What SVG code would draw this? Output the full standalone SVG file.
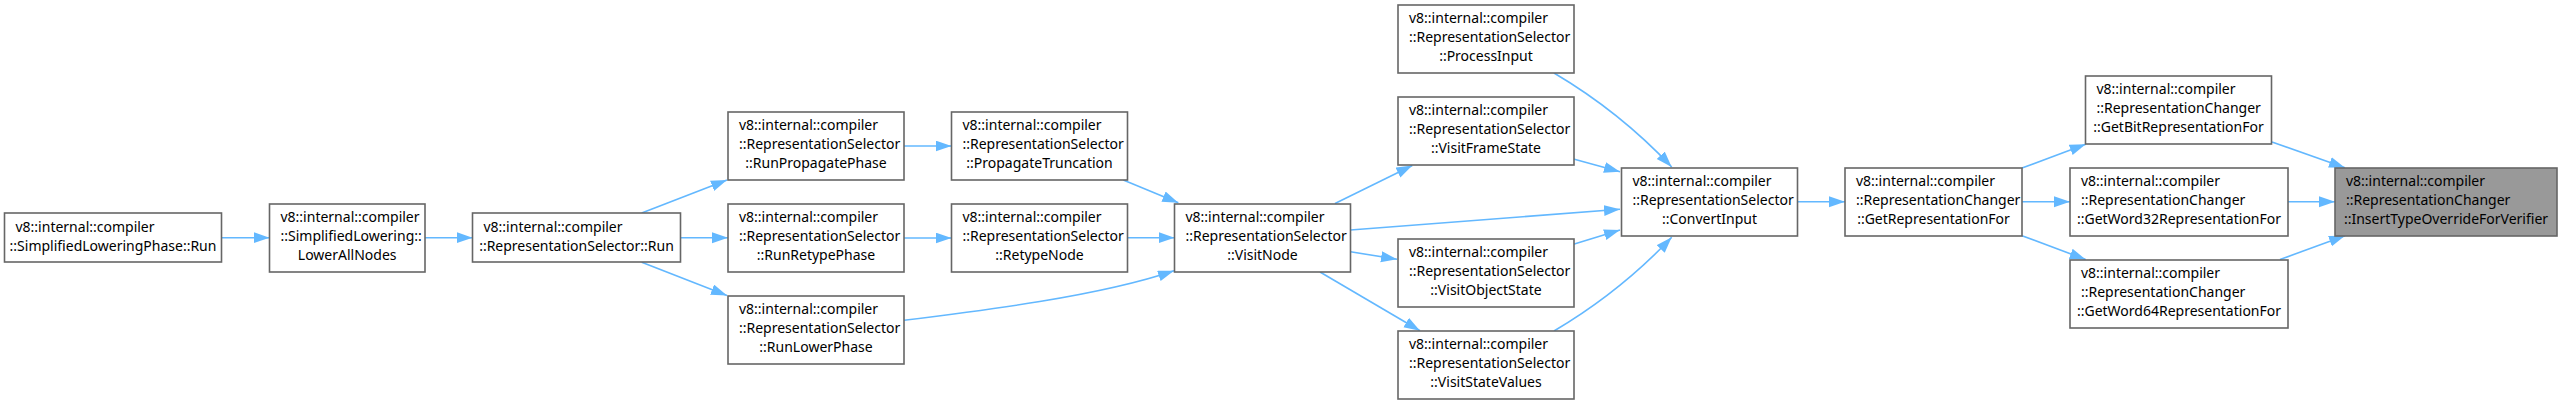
<svg xmlns="http://www.w3.org/2000/svg" width="2562" height="404" viewBox="0 0 2562 404">
<style>
.n rect{fill:#ffffff;stroke:#666666;stroke-width:1.6}
.n.h rect{fill:#999999;stroke:#666666}
text{font-family:"Noto Sans","Open Sans","DejaVu Sans",sans-serif;font-size:14px;fill:#000000}
.c{text-anchor:middle}
.e path{fill:none;stroke:#63b8ff;stroke-width:1.6;marker-end:url(#ah)}
</style>
<defs>
<marker id="ah" markerUnits="userSpaceOnUse" markerWidth="17" markerHeight="12" refX="16" refY="5.5" orient="auto">
<path d="M0,0 L16,5.5 L0,11 z" fill="#63b8ff"/>
</marker>
</defs>
<rect width="2562" height="404" fill="#ffffff"/>
<g id="edges" class="e">
<path d="M221.5,237.7 L269.5,237.7"/>
<path d="M425,237.7 L472.5,237.7"/>
<path d="M641.7,213 L727,180"/>
<path d="M680.5,237.7 L728,237.7"/>
<path d="M641.7,262.3 L727,295.5"/>
<path d="M904,146 L951.5,146"/>
<path d="M904,238 L951.5,238"/>
<path d="M904,320.3 C980,311 1100,296 1174,270.7"/>
<path d="M1123.3,180 L1178.3,202.7"/>
<path d="M1126.5,237.7 L1174.5,237.7"/>
<path d="M1335,203.5 L1412.3,165.5"/>
<path d="M1350.5,230 L1620,209.3"/>
<path d="M1350.5,251.7 L1397,259.3"/>
<path d="M1320,272 L1420,330.7"/>
<path d="M1554,73 Q1620,112 1671.7,167"/>
<path d="M1573.5,159 L1620,171.7"/>
<path d="M1573.5,244.3 L1620,230"/>
<path d="M1554,331 Q1620,292 1671.7,237.3"/>
<path d="M1797,201.7 L1845,201.7"/>
<path d="M2022,168 L2085.7,144.3"/>
<path d="M2022,201.7 L2070,201.7"/>
<path d="M2022,235.7 L2085.7,259.5"/>
<path d="M2272,142 L2345,167.7"/>
<path d="M2288,201.7 L2335,201.7"/>
<path d="M2280,259.5 L2345,235.7"/>
</g>
<g id="n1" class="n"><rect x="4.5" y="213" width="217" height="49"/>
<text x="15.5" y="231.5">v8::internal::compiler</text>
<text class="c" x="113" y="250.5">::SimplifiedLoweringPhase::Run</text></g>
<g id="n2" class="n"><rect x="269.5" y="204" width="155.5" height="68"/>
<text x="280.5" y="222">v8::internal::compiler</text>
<text x="280.5" y="241">::SimplifiedLowering::</text>
<text class="c" x="347.2" y="260">LowerAllNodes</text></g>
<g id="n3" class="n"><rect x="472.5" y="213" width="208" height="49"/>
<text x="483.5" y="231.5">v8::internal::compiler</text>
<text class="c" x="576.5" y="250.5">::RepresentationSelector::Run</text></g>
<g id="n4" class="n"><rect x="728" y="112" width="176" height="68"/>
<text x="739" y="130">v8::internal::compiler</text>
<text x="739" y="149">::RepresentationSelector</text>
<text class="c" x="816" y="168">::RunPropagatePhase</text></g>
<g id="n5" class="n"><rect x="728" y="204" width="176" height="68"/>
<text x="739" y="222">v8::internal::compiler</text>
<text x="739" y="241">::RepresentationSelector</text>
<text class="c" x="816" y="260">::RunRetypePhase</text></g>
<g id="n6" class="n"><rect x="728" y="296" width="176" height="68"/>
<text x="739" y="314">v8::internal::compiler</text>
<text x="739" y="333">::RepresentationSelector</text>
<text class="c" x="816" y="352">::RunLowerPhase</text></g>
<g id="n7" class="n"><rect x="951.5" y="112" width="176" height="68"/>
<text x="962.5" y="130">v8::internal::compiler</text>
<text x="962.5" y="149">::RepresentationSelector</text>
<text class="c" x="1039.5" y="168">::PropagateTruncation</text></g>
<g id="n8" class="n"><rect x="951.5" y="204" width="176" height="68"/>
<text x="962.5" y="222">v8::internal::compiler</text>
<text x="962.5" y="241">::RepresentationSelector</text>
<text class="c" x="1039.5" y="260">::RetypeNode</text></g>
<g id="n9" class="n"><rect x="1174.5" y="204" width="176" height="68"/>
<text x="1185.5" y="222">v8::internal::compiler</text>
<text x="1185.5" y="241">::RepresentationSelector</text>
<text class="c" x="1262.5" y="260">::VisitNode</text></g>
<g id="n10" class="n"><rect x="1398" y="5" width="176" height="68"/>
<text x="1409" y="23">v8::internal::compiler</text>
<text x="1409" y="42">::RepresentationSelector</text>
<text class="c" x="1486" y="61">::ProcessInput</text></g>
<g id="n11" class="n"><rect x="1398" y="97" width="176" height="68"/>
<text x="1409" y="115">v8::internal::compiler</text>
<text x="1409" y="134">::RepresentationSelector</text>
<text class="c" x="1486" y="153">::VisitFrameState</text></g>
<g id="n12" class="n"><rect x="1398" y="239" width="176" height="68"/>
<text x="1409" y="257">v8::internal::compiler</text>
<text x="1409" y="276">::RepresentationSelector</text>
<text class="c" x="1486" y="295">::VisitObjectState</text></g>
<g id="n13" class="n"><rect x="1398" y="331" width="176" height="68"/>
<text x="1409" y="349">v8::internal::compiler</text>
<text x="1409" y="368">::RepresentationSelector</text>
<text class="c" x="1486" y="387">::VisitStateValues</text></g>
<g id="n14" class="n"><rect x="1621.5" y="168" width="176" height="68"/>
<text x="1632.5" y="186">v8::internal::compiler</text>
<text x="1632.5" y="205">::RepresentationSelector</text>
<text class="c" x="1709.5" y="224">::ConvertInput</text></g>
<g id="n15" class="n"><rect x="1845" y="168" width="177" height="68"/>
<text x="1856" y="186">v8::internal::compiler</text>
<text x="1856" y="205">::RepresentationChanger</text>
<text class="c" x="1933.5" y="224">::GetRepresentationFor</text></g>
<g id="n16" class="n"><rect x="2085.5" y="76" width="186" height="68"/>
<text x="2096.5" y="94">v8::internal::compiler</text>
<text x="2096.5" y="113">::RepresentationChanger</text>
<text class="c" x="2178.5" y="132">::GetBitRepresentationFor</text></g>
<g id="n17" class="n"><rect x="2070" y="168" width="218" height="68"/>
<text x="2081" y="186">v8::internal::compiler</text>
<text x="2081" y="205">::RepresentationChanger</text>
<text class="c" x="2179" y="224">::GetWord32RepresentationFor</text></g>
<g id="n18" class="n"><rect x="2070" y="260" width="218" height="68"/>
<text x="2081" y="278">v8::internal::compiler</text>
<text x="2081" y="297">::RepresentationChanger</text>
<text class="c" x="2179" y="316">::GetWord64RepresentationFor</text></g>
<g id="n19" class="n h"><rect x="2335" y="168" width="222" height="68"/>
<text x="2346" y="186">v8::internal::compiler</text>
<text x="2346" y="205">::RepresentationChanger</text>
<text class="c" x="2446" y="224">::InsertTypeOverrideForVerifier</text></g>
</svg>
